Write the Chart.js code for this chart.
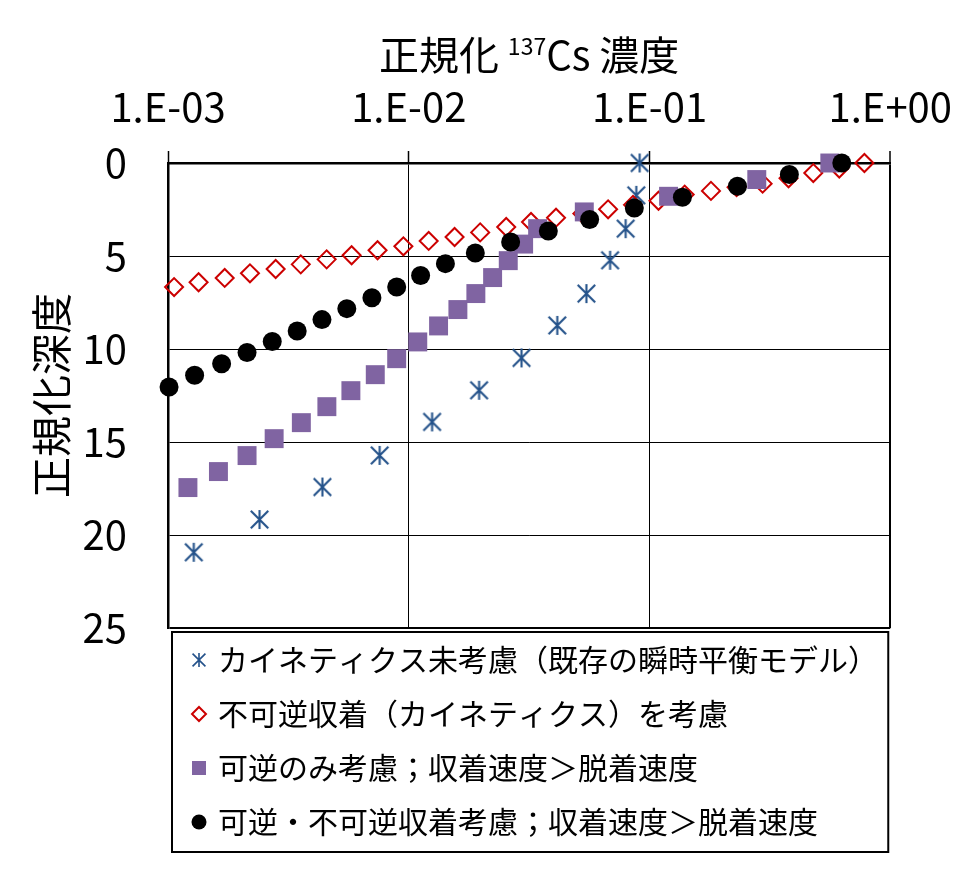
<!DOCTYPE html>
<html>
<head>
<meta charset="utf-8">
<title>正規化深度と正規化137Cs濃度</title>
<style>
  body { margin: 0; background: #fff; }
  #wrap { width: 972px; height: 895px; position: relative; }
</style>
<script src="https://cdn.jsdelivr.net/npm/chart.js"></script>
</head>
<body>
<div id="wrap"><canvas id="profileChart"></canvas></div>
<script>
// values
const seriesLabels = [
  'カイネティクス未考慮（既存の瞬時平衡モデル）',
  '不可逆収着（カイネティクス）を考慮',
  '可逆のみ考慮；収着速度＞脱着速度',
  '可逆・不可逆収着考慮；収着速度＞脱着速度'
];

// カイネティクス未考慮
const noKineticsConc = [1.28e-3, 2.40e-3, 4.38e-3, 7.57e-3, 1.25e-2, 1.96e-2, 2.94e-2, 4.14e-2, 5.47e-2, 6.86e-2, 7.96e-2, 8.81e-2, 9.10e-2];
const noKineticsDepth = [20.93, 19.17, 17.42, 15.72, 13.92, 12.22, 10.48, 8.73, 7.02, 5.23, 3.53, 1.74, 0];

// 不可逆収着
const irreversibleConc = [1.06e-3, 1.34e-3, 1.72e-3, 2.19e-3, 2.80e-3, 3.56e-3, 4.56e-3, 5.79e-3, 7.42e-3, 9.50e-3,
  1.21e-2, 1.55e-2, 1.98e-2, 2.54e-2, 3.22e-2, 4.09e-2, 5.26e-2, 6.73e-2, 8.54e-2, 0.109,
  0.140, 0.180, 0.230, 0.295, 0.378, 0.479, 0.614, 0.781];
const irreversibleDepth = [6.67, 6.41, 6.18, 5.93, 5.70, 5.45, 5.18, 4.96, 4.69, 4.48,
  4.19, 3.98, 3.73, 3.44, 3.17, 2.94, 2.72, 2.49, 2.25, 2.03,
  1.70, 1.50, 1.30, 1.11, 0.82, 0.54, 0.30, 0];

// 可逆のみ
const reversibleConc = [1.21e-3, 1.62e-3, 2.13e-3, 2.76e-3, 3.58e-3, 4.57e-3, 5.75e-3, 7.26e-3, 8.91e-3, 1.09e-2,
  1.33e-2, 1.60e-2, 1.90e-2, 2.23e-2, 2.59e-2, 3.00e-2, 3.43e-2, 5.36e-2, 0.120, 0.279, 0.561];
const reversibleDepth = [17.45, 16.59, 15.73, 14.82, 13.96, 13.10, 12.24, 11.38, 10.52, 9.62,
  8.76, 7.88, 7.02, 6.16, 5.25, 4.36, 3.53, 2.63, 1.79, 0.89, 0];

// 可逆・不可逆
const bothConc = [1.01e-3, 1.29e-3, 1.67e-3, 2.13e-3, 2.71e-3, 3.44e-3, 4.36e-3, 5.53e-3, 7.03e-3, 8.91e-3,
  1.12e-2, 1.42e-2, 1.89e-2, 2.65e-2, 3.80e-2, 5.64e-2, 8.65e-2, 0.137, 0.232, 0.381, 0.629];
const bothDepth = [12.04, 11.41, 10.79, 10.19, 9.60, 9.03, 8.42, 7.83, 7.24, 6.67,
  6.05, 5.41, 4.84, 4.25, 3.66, 3.04, 2.42, 1.84, 1.25, 0.62, 0];

const xTickValues = [1e-3, 1e-2, 1e-1, 1];
const xTickLabels = ['1.E-03', '1.E-02', '1.E-01', '1.E+00'];
const yMin = 0;
const yMax = 25;
const yStep = 5;

const FONT = "'Noto Sans CJK JP', 'Noto Sans', sans-serif";
const STAR_COLOR = '#24528a';
const DIAMOND_COLOR = '#cc0000';
const SQUARE_COLOR = '#8064a2';
const CIRCLE_COLOR = '#000000';

const toPoints = (xs, ys) => xs.map((x, i) => ({ x, y: ys[i] }));

// asterisk marker: vertical bar plus an X
function makeStar(size, lw) {
  const c = document.createElement('canvas');
  c.width = size;
  c.height = size;
  const g = c.getContext('2d');
  const m = size / 2;
  const a = size / 2 - 1;
  const d = a * 0.92;
  g.strokeStyle = STAR_COLOR;
  g.lineWidth = lw;
  g.beginPath();
  g.moveTo(m, m - a); g.lineTo(m, m + a);
  g.moveTo(m - d, m - d); g.lineTo(m + d, m + d);
  g.moveTo(m + d, m - d); g.lineTo(m - d, m + d);
  g.stroke();
  return c;
}

const starImg = makeStar(21, 2.1);
const starLegendImg = makeStar(16, 1.6);

// x axis title with superscript mass number
const axisTitle = {
  id: 'axisTitle',
  afterDraw(chart) {
    const { ctx, chartArea } = chart;
    const parts = [
      { t: '正規化 ', size: 40, dy: 0 },
      { t: '137', size: 23, dy: -9 },
      { t: 'Cs 濃度', size: 40, dy: 0 }
    ];
    ctx.save();
    ctx.fillStyle = '#000';
    ctx.textBaseline = 'middle';
    ctx.textAlign = 'left';
    let total = 0;
    parts.forEach(p => {
      ctx.font = `${p.size}px ${FONT}`;
      p.w = ctx.measureText(p.t).width;
      total += p.w;
    });
    let x = (chartArea.left + chartArea.right) / 2 - total / 2;
    parts.forEach(p => {
      ctx.font = `${p.size}px ${FONT}`;
      ctx.fillText(p.t, x, 55 + p.dy);
      x += p.w;
    });
    ctx.restore();
  }
};

// boxed legend under the plot, one series per line
const legendBox = {
  id: 'legendBox',
  afterDraw(chart) {
    const { ctx, chartArea } = chart;
    const left = chartArea.left + 4;
    const top = chartArea.bottom + 4;
    const right = chartArea.right - 2;
    const bottom = 852;
    ctx.save();
    ctx.lineWidth = 2;
    ctx.strokeStyle = '#000';
    ctx.strokeRect(left, top, right - left, bottom - top);

    ctx.font = `30px ${FONT}`;
    ctx.fillStyle = '#000';
    ctx.textBaseline = 'middle';
    ctx.textAlign = 'left';
    chart.data.datasets.forEach((ds, i) => {
      const cy = top + 28 + i * 54;
      const cx = left + 27;
      if (i === 0) {
        ctx.drawImage(starLegendImg, cx - 8, cy - 8);
      } else if (i === 1) {
        ctx.beginPath();
        ctx.moveTo(cx, cy - 7); ctx.lineTo(cx + 7, cy);
        ctx.lineTo(cx, cy + 7); ctx.lineTo(cx - 7, cy);
        ctx.closePath();
        ctx.lineWidth = 2;
        ctx.strokeStyle = DIAMOND_COLOR;
        ctx.stroke();
      } else if (i === 2) {
        ctx.fillStyle = SQUARE_COLOR;
        ctx.fillRect(cx - 7, cy - 7, 14, 14);
      } else {
        ctx.fillStyle = CIRCLE_COLOR;
        ctx.beginPath();
        ctx.arc(cx, cy, 7.5, 0, Math.PI * 2);
        ctx.fill();
      }
      ctx.fillStyle = '#000';
      ctx.fillText(ds.label, left + 46, cy);
    });
    ctx.restore();
  }
};

const ctx = document.getElementById('profileChart').getContext('2d');
new Chart(ctx, {
  type: 'scatter',
  data: {
    datasets: [
      {
        label: seriesLabels[0],
        data: toPoints(noKineticsConc, noKineticsDepth),
        pointStyle: starImg,
        order: 3,
        clip: false
      },
      {
        label: seriesLabels[1],
        data: toPoints(irreversibleConc, irreversibleDepth),
        pointStyle: 'rectRot',
        pointRadius: 9,
        pointBackgroundColor: 'rgba(255,255,255,0)',
        pointBorderColor: DIAMOND_COLOR,
        pointBorderWidth: 2,
        order: 2,
        clip: false
      },
      {
        label: seriesLabels[2],
        data: toPoints(reversibleConc, reversibleDepth),
        pointStyle: 'rect',
        pointRadius: 13.4,
        pointBackgroundColor: SQUARE_COLOR,
        pointBorderWidth: 0,
        order: 1,
        clip: false
      },
      {
        label: seriesLabels[3],
        data: toPoints(bothConc, bothDepth),
        pointStyle: 'circle',
        pointRadius: 9.5,
        pointBackgroundColor: CIRCLE_COLOR,
        pointBorderWidth: 0,
        order: 0,
        clip: false
      }
    ]
  },
  options: {
    responsive: true,
    maintainAspectRatio: false,
    animation: false,
    events: [],
    layout: { padding: { left: 0, top: 0, right: 80, bottom: 267 } },
    plugins: {
      legend: { display: false },
      tooltip: { enabled: false }
    },
    scales: {
      x: {
        type: 'logarithmic',
        position: 'top',
        min: xTickValues[0],
        max: xTickValues[xTickValues.length - 1],
        afterBuildTicks: (scale) => {
          scale.ticks = xTickValues.map(v => ({ value: v }));
        },
        afterFit: (scale) => { scale.height = 163; },
        ticks: {
          autoSkip: false,
          maxRotation: 0,
          padding: 20,
          color: '#000',
          font: { family: FONT, size: 40 },
          callback: (v, i) => xTickLabels[i]
        },
        grid: {
          color: '#000',
          lineWidth: (c) => (c.index === xTickValues.length - 1 ? 2 : 1),
          drawTicks: true,
          tickLength: 12,
          tickColor: '#000',
          tickWidth: 1.5
        },
        border: { display: true, color: '#000', width: 2.5 }
      },
      y: {
        type: 'linear',
        position: 'left',
        reverse: true,
        min: yMin,
        max: yMax,
        afterFit: (scale) => { scale.width = 168; },
        ticks: {
          stepSize: yStep,
          padding: 41,
          color: '#000',
          font: { family: FONT, size: 40 }
        },
        title: {
          display: true,
          text: '正規化深度',
          color: '#000',
          font: { family: FONT, size: 41 },
          padding: { top: 27, bottom: 0 }
        },
        grid: {
          color: '#000',
          lineWidth: (c) => (c.tick && c.tick.value === yMax ? 2 : 1),
          drawTicks: false
        },
        border: { display: true, color: '#000', width: 2.5 }
      }
    }
  },
  plugins: [axisTitle, legendBox]
});
</script>
</body>
</html>
